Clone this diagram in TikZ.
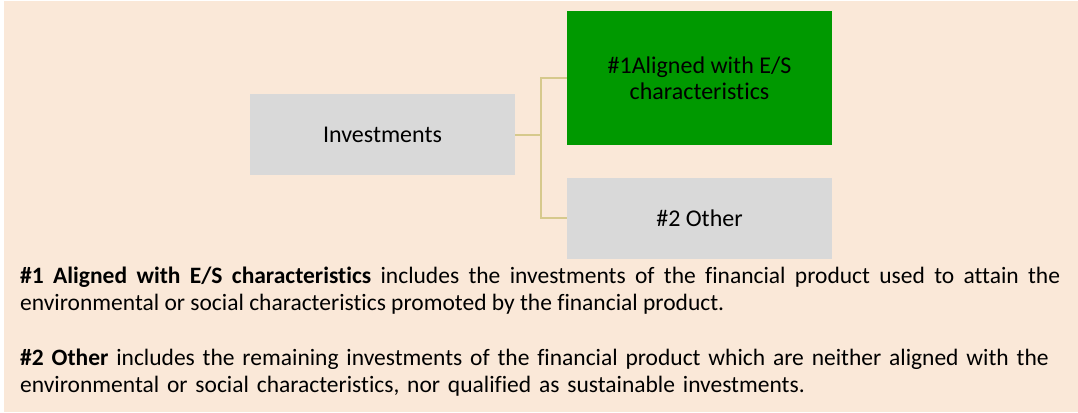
\documentclass[tikz,border=0pt]{standalone}
\usepackage{fontspec}
\setmainfont{Carlito}[Ligatures=NoCommon]
\usetikzlibrary{positioning}

\definecolor{peach}{RGB}{250,232,216}
\definecolor{boxgray}{RGB}{217,217,217}
\definecolor{esgreen}{RGB}{0,153,0}
\definecolor{linktan}{RGB}{214,201,140}

\begin{document}
\begin{tikzpicture}[x=1pt,y=-1pt,
  cat/.style={rectangle,fill=boxgray,minimum width=265pt,minimum height=81pt,inner sep=2pt,align=center,font=\fontsize{24}{26}\selectfont},
  link/.style={draw=linktan,line width=2pt},
  note/.style={anchor=base west,inner sep=0pt,text width=1040pt,font=\fontsize{23.5}{27}\selectfont}
]
  \useasboundingbox (0,0) rectangle (1078,412);
  \fill[peach] (4,1) rectangle (1078,412);

  \node[cat](inv) at (382.5,134.5) {Investments};
  \node[cat,fill=esgreen,minimum height=134pt](es) at (699.5,78) {\#1Aligned with E/S\\characteristics};
  \node[cat](oth) at (699.5,218) {\#2 Other};

  \draw[link] (inv.east) -- ++(26,0) |- (es.west);
  \draw[link] (inv.east) -- ++(26,0) |- (oth.west);

  \node[note,align=justify](note1) at (20,283) {\textbf{\#1 Aligned with E/S characteristics} includes the investments of the financial product used to attain the\linebreak environmental or social characteristics promoted by the financial product.};
  \node[note,align=left](note2) at (20,365) {\textbf{\#2 Other} includes the remaining investments of the financial product which are neither aligned with the\\environmental or social characteristics, nor qualified as sustainable investments.};
\end{tikzpicture}
\end{document}
